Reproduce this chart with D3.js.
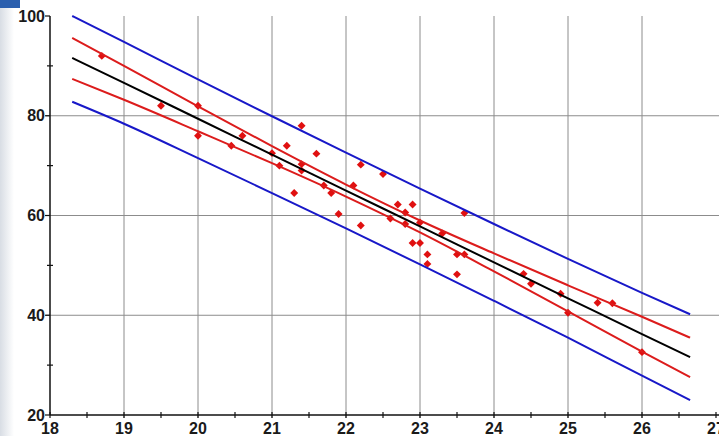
<!DOCTYPE html>
<html>
<head>
<meta charset="utf-8">
<script src="https://cdn.jsdelivr.net/npm/d3@7"></script>
<style>
  body { margin: 0; background: #fff; }
  #chart svg { display: block; }
  .tick-label { font-family: "Liberation Sans", Arial, sans-serif; font-weight: bold; font-size: 16px; fill: #1a1a1a; }
</style>
</head>
<body>
<div id="chart"></div>
<script>
// regression plot - fitted line, confidence band (red), prediction band (blue)

const X_TICKS = [18, 19, 20, 21, 22, 23, 24, 25, 26, 27];
const Y_TICKS = [20, 40, 60, 80, 100];

// observed points
const POINT_X = [18.7, 19.5, 20.0, 20.0, 20.45, 20.6, 21.0, 21.1, 21.2, 21.3, 21.4, 21.4, 21.4, 21.6, 21.7,
  21.8, 21.9, 22.1, 22.2, 22.2, 22.5, 22.6, 22.7, 22.8, 22.8, 22.9, 22.9, 23.0, 23.0, 23.1, 23.1, 23.3,
  23.5, 23.5, 23.6, 23.6, 24.4, 24.5, 24.9, 25.0, 25.4, 25.6, 26.0];
const POINT_Y = [92, 82, 82, 76, 74, 76, 72.5, 70, 74, 64.5, 78, 70.3, 69, 72.4, 66,
  64.5, 60.3, 66, 70.2, 58, 68.3, 59.4, 62.2, 60.6, 58.3, 62.2, 54.5, 58.6, 54.5, 52.2, 50.3, 56.4,
  52.2, 48.2, 52.2, 60.5, 48.3, 46.3, 44.3, 40.5, 42.5, 42.4, 32.6];

const LINE_X = [18.3, 19, 20, 21, 22, 23, 24, 25, 26, 26.65];
const FIT = [91.6, 86.6, 79.4, 72.2, 65.0, 57.8, 50.6, 43.4, 36.2, 31.6];
const CONF_UPPER = [95.6, 90.0, 81.9, 73.9, 66.2, 59.0, 52.4, 46.0, 39.7, 35.5];
const CONF_LOWER = [87.4, 83.2, 76.9, 70.5, 63.8, 56.6, 48.8, 40.8, 32.7, 27.6];
const PRED_UPPER = [100.0, 94.8, 87.3, 79.9, 72.6, 65.4, 58.3, 51.3, 44.5, 40.2];
const PRED_LOWER = [82.8, 78.4, 71.5, 64.5, 57.4, 50.2, 42.9, 35.5, 27.9, 23.0];

function createChart() {
    const W = 719, H = 436;
    const left = 50, top = 16, bottom = 415, right = 716;

    const svg = d3.select('#chart')
        .append('svg')
        .attr('width', W)
        .attr('height', H);

    // window decoration at the left edge
    const grad = svg.append('defs').append('linearGradient')
        .attr('id', 'edge').attr('x1', 0).attr('x2', 1);
    grad.append('stop').attr('offset', '0%').attr('stop-color', '#d8dde4');
    grad.append('stop').attr('offset', '100%').attr('stop-color', '#fff');
    svg.append('rect').attr('x', 0).attr('y', 0).attr('width', 14).attr('height', H).style('fill', 'url(#edge)');
    svg.append('rect').attr('x', 0).attr('y', 0).attr('width', 20).attr('height', 8).style('fill', '#2b5fae');

    const x = d3.scaleLinear().domain([18, 27]).range([left, right]);
    const y = d3.scaleLinear().domain([20, 100]).range([bottom, top]);

    // grid lines
    svg.append('g')
        .selectAll('line')
        .data(X_TICKS.filter(d => d > 18 && d < 27))
        .enter().append('line')
        .attr('x1', d => x(d)).attr('x2', d => x(d))
        .attr('y1', top).attr('y2', bottom + 3)
        .style('stroke', '#8c8c8c').style('stroke-width', 1);

    svg.append('g')
        .selectAll('line')
        .data(Y_TICKS.filter(d => d > 20 && d < 100))
        .enter().append('line')
        .attr('x1', left - 4).attr('x2', W)
        .attr('y1', d => y(d)).attr('y2', d => y(d))
        .style('stroke', '#8c8c8c').style('stroke-width', 1);

    // points first, lines drawn over them
    const points = POINT_X.map((px, i) => ({ x: px, y: POINT_Y[i] }));
    svg.append('g')
        .selectAll('path')
        .data(points)
        .enter().append('path')
        .attr('d', d3.symbol().type(d3.symbolDiamond2).size(40))
        .attr('transform', d => `translate(${x(d.x)},${y(d.y)})`)
        .style('fill', '#e01010');

    const line = d3.line()
        .x((d, i) => x(LINE_X[i]))
        .y(d => y(d))
        .curve(d3.curveMonotoneX);

    const curves = [
        { v: PRED_UPPER, c: '#1818c8' },
        { v: PRED_LOWER, c: '#1818c8' },
        { v: CONF_UPPER, c: '#dc1c1c' },
        { v: CONF_LOWER, c: '#dc1c1c' },
        { v: FIT, c: '#000' }
    ];
    svg.append('g')
        .selectAll('path')
        .data(curves)
        .enter().append('path')
        .attr('d', d => line(d.v))
        .style('fill', 'none')
        .style('stroke', d => d.c)
        .style('stroke-width', 2);

    // axes
    const axis = svg.append('g').style('stroke', '#111').style('stroke-width', 1.5);
    axis.append('line').attr('x1', left).attr('x2', W).attr('y1', bottom).attr('y2', bottom);
    axis.append('line').attr('x1', left).attr('x2', left).attr('y1', top).attr('y2', bottom);

    // x ticks (major + half-unit minor)
    axis.selectAll('.xt')
        .data(d3.range(18, 27.01, 0.5))
        .enter().append('line')
        .attr('x1', d => x(d)).attr('x2', d => x(d))
        .attr('y1', bottom - 3).attr('y2', bottom + 3)
        .style('stroke-width', 1.2);

    // y ticks
    axis.selectAll('.yt')
        .data(d3.range(20, 100.01, 10))
        .enter().append('line')
        .attr('x1', d => d % 20 === 0 ? left - 5 : left - 3)
        .attr('x2', d => d % 20 === 0 ? left : left + 3)
        .attr('y1', d => y(d)).attr('y2', d => y(d))
        .style('stroke-width', 1.2);

    // tick labels
    svg.append('g')
        .selectAll('text')
        .data(X_TICKS)
        .enter().append('text')
        .attr('class', 'tick-label')
        .attr('x', d => x(d))
        .attr('y', 434)
        .attr('text-anchor', 'middle')
        .text(d => d);

    svg.append('g')
        .selectAll('text')
        .data(Y_TICKS)
        .enter().append('text')
        .attr('class', 'tick-label')
        .attr('x', left - 5)
        .attr('y', d => y(d))
        .attr('dy', '0.35em')
        .attr('text-anchor', 'end')
        .text(d => d);
}

createChart();
</script>
</body>
</html>
